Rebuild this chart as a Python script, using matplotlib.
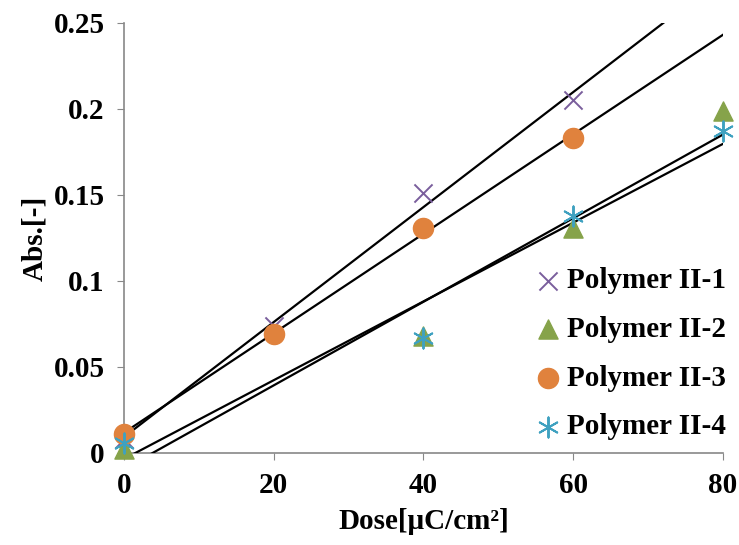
import numpy as np
import matplotlib.pyplot as plt

plt.rcParams['font.family'] = ['Liberation Serif', 'DejaVu Serif']
plt.rcParams['font.weight'] = 'bold'

# doses per series
dose_1 = [0, 20, 40, 60]
abs_1 = [0.008, 0.074, 0.151, 0.205]
dose_2 = [0, 40, 60, 80]
abs_2 = [0.002, 0.068, 0.131, 0.199]
dose_3 = [0, 20, 40, 60]
abs_3 = [0.011, 0.069, 0.131, 0.183]
dose_4 = [0, 40, 60, 80]
abs_4 = [0.006, 0.067, 0.138, 0.187]
labels = ['Polymer II-1', 'Polymer II-2', 'Polymer II-3', 'Polymer II-4']

fig = plt.figure(figsize=(7.39, 5.45), dpi=100)
ax = fig.add_axes([0.168, 0.169, 0.810, 0.789])

xfit = np.array([0, 80])
for xs, ys in [(dose_1, abs_1), (dose_3, abs_3), (dose_2, abs_2), (dose_4, abs_4)]:
    m, b = np.polyfit(xs, ys, 1)
    ax.plot(xfit, m * xfit + b, color='black', lw=1.6, zorder=3)

ax.scatter(dose_1, abs_1, marker='x', s=170, color='#7A5E9C', lw=1.4, label=labels[0], zorder=4, clip_on=False)
ax.scatter(dose_2, abs_2, marker='^', s=190, color='#86A34A', label=labels[1], zorder=4, clip_on=False)
ax.scatter(dose_3, abs_3, marker='o', s=210, color='#E0823D', label=labels[2], zorder=4, clip_on=False)
ax.scatter(dose_4, abs_4, marker=(6, 2, 0), s=210, color='#3FA1C0', lw=1.4, label=labels[3], zorder=4, clip_on=False)

ax.set_xlim(0, 80)
ax.set_ylim(0, 0.25)
ax.set_xticks([0, 20, 40, 60, 80])
ax.set_yticks([0, 0.05, 0.1, 0.15, 0.2, 0.25])
ax.set_yticklabels(['0', '0.05', '0.1', '0.15', '0.2', '0.25'])

for s in ['top', 'right']:
    ax.spines[s].set_visible(False)
for s in ['left', 'bottom']:
    ax.spines[s].set_color('#888888')
    ax.spines[s].set_linewidth(1.2)
ax.tick_params(colors='#888888', labelcolor='black', labelsize=21, length=5, pad=9)

ax.set_xlabel('Dose[\u03bcC/cm\u00b2]', fontsize=21, fontweight='bold', labelpad=6)
ax.set_ylabel('Abs.[-]', fontsize=21, fontweight='bold', labelpad=4)

ax.legend(loc='lower right', bbox_to_anchor=(1.04, -0.018), frameon=False, fontsize=21,
          handletextpad=-0.1, labelspacing=0.74, markerscale=1.0, handlelength=1.5,
          borderaxespad=0.3)

fig.savefig('out.png', dpi=100)
